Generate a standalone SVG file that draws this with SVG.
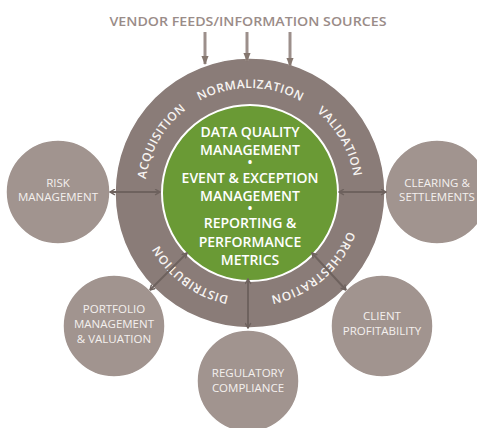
<svg xmlns="http://www.w3.org/2000/svg" width="477" height="428" viewBox="0 0 477 428">
<defs>
<style>
.sat{fill:#a1948f;stroke:#ffffff;stroke-width:1.5}
.satt{font-family:"Open Sans","Liberation Sans",sans-serif;font-size:11.5px;fill:#f4f0ee;text-anchor:middle}
.ringt{font-family:"Open Sans","Liberation Sans",sans-serif;font-size:12px;font-weight:600;fill:#f7f4f2;text-anchor:middle;letter-spacing:0.5px}
.ct{font-family:"Open Sans","Liberation Sans",sans-serif;font-size:14px;font-weight:600;fill:#ffffff;text-anchor:middle}
.bul{font-family:"Open Sans","Liberation Sans",sans-serif;font-size:12px;font-weight:700;fill:#ffffff;text-anchor:middle}
.con{stroke:#6e625e;stroke-width:2;fill:none;marker-start:url(#chev);marker-end:url(#chev)}
.feed{stroke:#9c8f8b;stroke-width:3;fill:none;marker-end:url(#tri)}
</style>
<marker id="chev" viewBox="0 0 10 10" refX="9" refY="5" markerWidth="7" markerHeight="7" markerUnits="userSpaceOnUse" orient="auto-start-reverse">
<path d="M2,1 L9,5 L2,9" fill="none" stroke="#6e625e" stroke-width="2"/>
</marker>
<marker id="tri" viewBox="0 0 10 8" refX="9" refY="4" markerWidth="9" markerHeight="11" markerUnits="userSpaceOnUse" orient="auto">
<path d="M0,0 L10,4 L0,8 Z" fill="#85776f"/>
</marker>
<path id="ringpath" d="M355,193 A105,105 0 0 1 145,193 A105,105 0 0 1 355,193"/>
</defs>

<text x="248" y="26" font-family="'Open Sans','Liberation Sans',sans-serif" font-size="13" font-weight="600" fill="#9a8c88" text-anchor="middle" textLength="277" lengthAdjust="spacingAndGlyphs">VENDOR FEEDS/INFORMATION SOURCES</text>

<g id="satellites">
<g id="risk"><circle class="sat" cx="58" cy="192" r="52"/><text class="satt" x="58" y="187">RISK</text><text class="satt" x="58" y="201">MANAGEMENT</text></g>
<g id="clearing"><circle class="sat" cx="437" cy="192" r="52"/><text class="satt" x="437" y="187">CLEARING &amp;</text><text class="satt" x="437" y="201">SETTLEMENTS</text></g>
<g id="portfolio"><circle class="sat" cx="114" cy="326" r="51"/><text class="satt" x="114" y="313">PORTFOLIO</text><text class="satt" x="114" y="328">MANAGEMENT</text><text class="satt" x="114" y="343">&amp; VALUATION</text></g>
<g id="regulatory"><circle class="sat" cx="248" cy="381" r="51"/><text class="satt" x="248" y="377">REGULATORY</text><text class="satt" x="248" y="392">COMPLIANCE</text></g>
<g id="client"><circle class="sat" cx="382" cy="326" r="51"/><text class="satt" x="382" y="320">CLIENT</text><text class="satt" x="382" y="335">PROFITABILITY</text></g>
</g>

<g id="ring">
<circle cx="250" cy="193" r="135" fill="#8a7c78" stroke="#ffffff" stroke-width="1.5"/>
<text class="ringt"><textPath href="#ringpath" startOffset="494.8">NORMALIZATION</textPath></text>
<text class="ringt"><textPath href="#ringpath" startOffset="604.7">VALIDATION</textPath></text>
<text class="ringt"><textPath href="#ringpath" startOffset="91.6">ORCHESTRATION</textPath></text>
<text class="ringt"><textPath href="#ringpath" startOffset="230.9">DISTRIBUTION</textPath></text>
<text class="ringt"><textPath href="#ringpath" startOffset="384.8">ACQUISITION</textPath></text>
</g>

<g id="core">
<circle cx="250" cy="193" r="88" fill="#6a9a35" stroke="#ffffff" stroke-width="2"/>
<text class="ct" x="250" y="137">DATA QUALITY</text>
<text class="ct" x="250" y="155">MANAGEMENT</text>
<text class="bul" x="250" y="167">•</text>
<text class="ct" x="250" y="183">EVENT &amp; EXCEPTION</text>
<text class="ct" x="250" y="201">MANAGEMENT</text>
<text class="bul" x="250" y="213">•</text>
<text class="ct" x="250" y="228">REPORTING &amp;</text>
<text class="ct" x="250" y="247">PERFORMANCE</text>
<text class="ct" x="250" y="265">METRICS</text>
</g>

<g id="connectors">
<line class="feed" x1="205" y1="32" x2="205" y2="64"/>
<line class="feed" x1="247" y1="32" x2="247" y2="61"/>
<line class="feed" x1="290" y1="32" x2="290" y2="66"/>
<line class="con" x1="110" y1="192" x2="160" y2="192"/>
<line class="con" x1="339" y1="192" x2="386" y2="192"/>
<line class="con" x1="187" y1="253" x2="150" y2="290"/>
<line class="con" x1="312" y1="253" x2="346" y2="290"/>
<line class="con" x1="248" y1="279" x2="248" y2="328"/>
</g>
</svg>
